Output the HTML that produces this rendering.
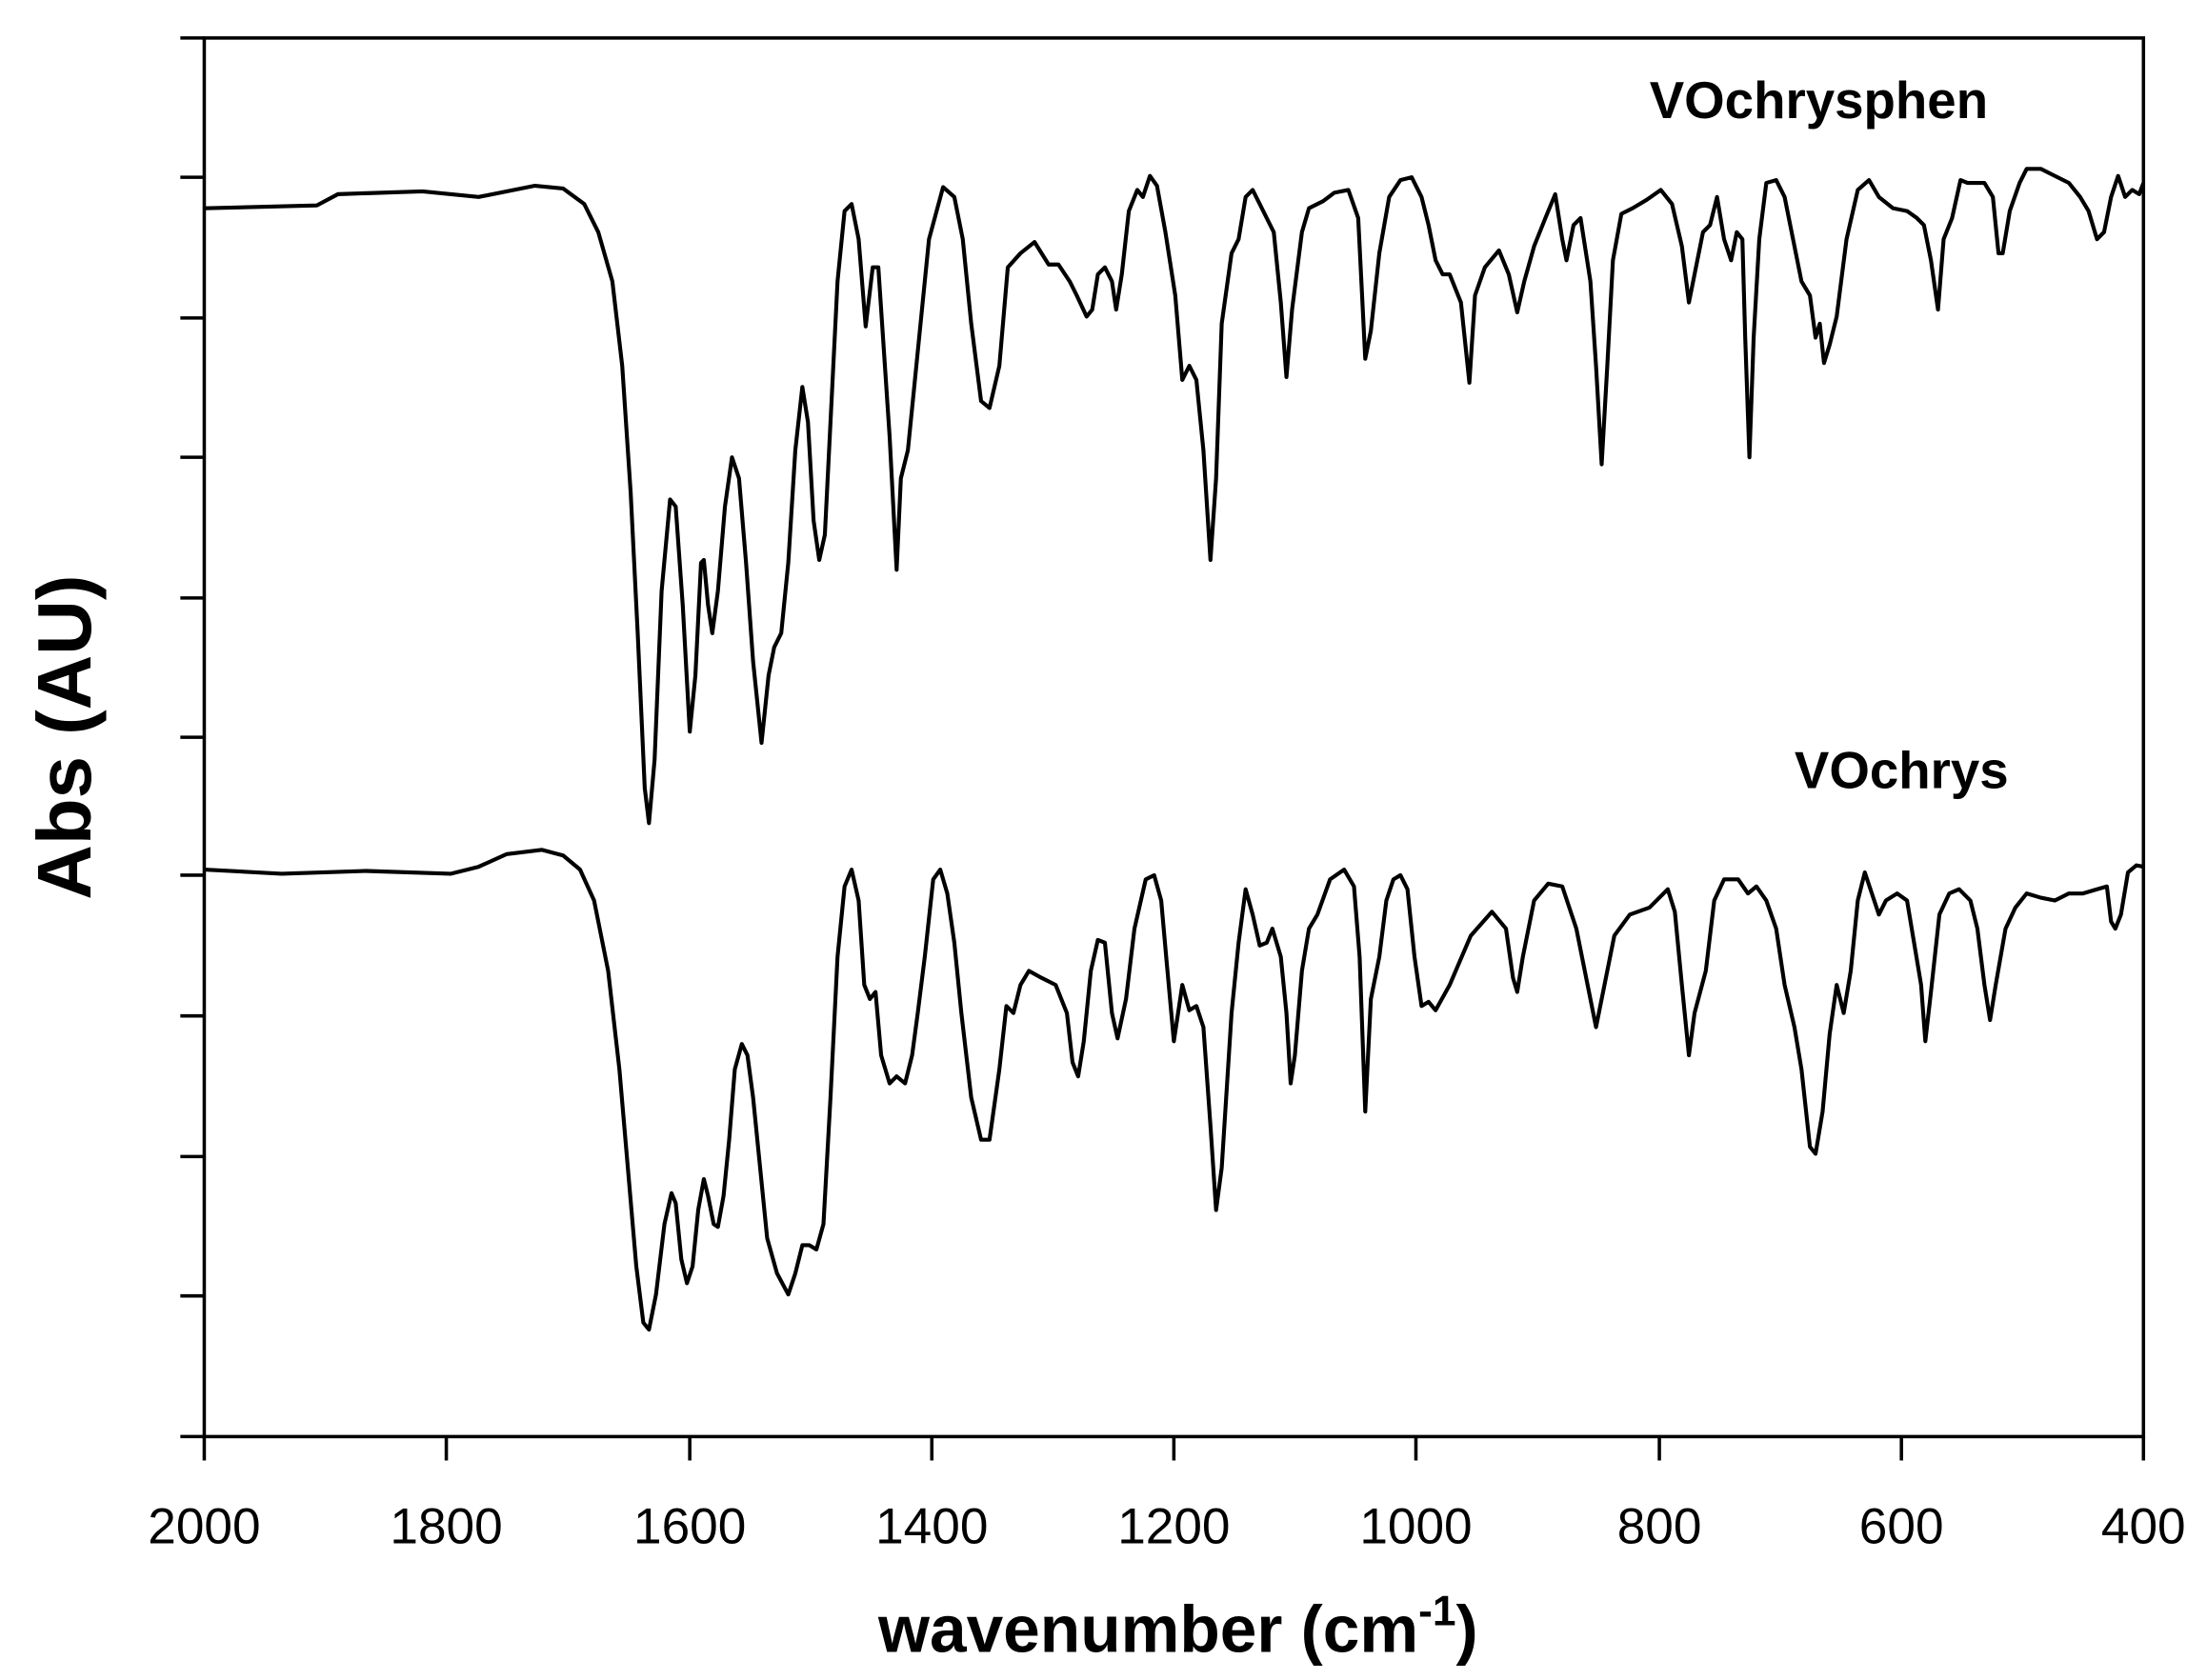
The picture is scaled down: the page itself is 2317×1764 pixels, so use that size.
<!DOCTYPE html>
<html><head><meta charset="utf-8"><style>html,body{margin:0;padding:0;background:#fff}svg{display:block}</style></head>
<body>
<svg width="2317" height="1764" viewBox="0 0 1568 1194" xmlns="http://www.w3.org/2000/svg" font-family="Liberation Sans, Arial, sans-serif">
<rect width="1568" height="1194" fill="#fff"/>
<g stroke="#000" stroke-width="2.4" fill="none">
<rect x="145" y="27" width="1378" height="994"/>
<path d="M128 27H145M128 126H145M128 226H145M128 325H145M128 425H145M128 524H145M128 622H145M128 722H145M128 822H145M128 921H145M128 1021H145"/>
<path d="M145 1021V1038M317 1021V1038M490 1021V1038M662 1021V1038M834 1021V1038M1006 1021V1038M1179 1021V1038M1351 1021V1038M1523 1021V1038"/>
</g>
<g font-size="36" text-anchor="middle" fill="#000">
<text x="145" y="1097">2000</text><text x="317" y="1097">1800</text><text x="490" y="1097">1600</text><text x="662" y="1097">1400</text><text x="834" y="1097">1200</text><text x="1006" y="1097">1000</text><text x="1179" y="1097">800</text><text x="1351" y="1097">600</text><text x="1523" y="1097">400</text>
</g>
<text x="837" y="1174" font-size="47" font-weight="bold" text-anchor="middle">wavenumber (cm<tspan font-size="30" dy="-19">-1</tspan><tspan dy="19">)</tspan></text>
<text transform="translate(64,524) rotate(-90)" font-size="54" font-weight="bold" text-anchor="middle">Abs (AU)</text>
<text x="1172" y="84" font-size="37" font-weight="bold">VOchrysphen</text>
<text x="1275" y="560" font-size="37" font-weight="bold">VOchrys</text>
<g stroke="#000" stroke-width="2.8" fill="none" stroke-linejoin="round">
<polyline points="145,148 225,146 240,138 300,136 340,140 380,132 400,134 415,145 425,165 435,200 442,260 448,350 453,450 458,560 461,585 465,540 470,420 476,355 480,360 485,430 490,520 494,480 498,400 500,398 503,430 506,450 510,420 515,360 520,325 525,340 530,400 535,470 541,528 546,480 550,460 555,450 560,400 565,320 570,275 574,300 578,370 582,398 586,380 590,300 595,200 600,150 605,145 610,170 615,232 620,190 624,190 628,250 632,310 637,405 640,340 645,320 652,250 660,170 670,133 678,140 684,170 690,230 697,285 703,290 710,260 716,190 725,180 735,172 745,188 752,188 760,200 765,210 772,225 776,220 780,195 785,190 790,200 793,220 797,195 802,150 808,135 812,140 817,125 822,132 828,165 835,210 840,270 845,260 850,270 855,320 860,398 864,340 868,230 875,180 880,170 885,140 890,135 895,145 900,155 905,165 910,215 914,268 918,220 925,165 930,148 940,143 948,137 958,135 965,155 970,255 974,235 980,180 987,140 995,128 1003,126 1010,140 1015,160 1020,185 1025,195 1030,195 1038,215 1044,272 1048,210 1055,190 1065,178 1072,195 1078,222 1083,200 1090,175 1098,155 1105,138 1110,170 1113,185 1118,160 1123,155 1130,200 1134,260 1138,330 1142,260 1146,185 1152,152 1160,148 1170,142 1180,135 1188,145 1195,175 1200,215 1205,190 1210,165 1215,160 1220,140 1225,170 1230,185 1234,165 1238,170 1240,240 1243,325 1246,240 1250,170 1255,130 1262,128 1268,140 1275,175 1280,200 1286,210 1290,240 1293,230 1296,258 1300,245 1305,225 1312,170 1320,135 1328,128 1335,140 1345,148 1355,150 1362,155 1367,160 1372,185 1377,220 1381,170 1387,155 1393,128 1398,130 1410,130 1416,140 1420,180 1423,180 1428,150 1435,130 1440,120 1450,120 1460,125 1470,130 1478,140 1484,150 1490,170 1495,165 1500,140 1505,125 1510,140 1515,135 1520,138 1523,130"/>
<polyline points="145,618 200,621 260,619 320,621 340,616 360,607 385,604 400,608 412,618 422,640 432,690 440,760 446,830 452,900 457,940 461,945 466,920 472,870 477,848 480,855 484,895 488,912 492,900 496,860 500,838 503,850 507,870 510,872 514,850 518,810 522,760 527,742 531,750 535,780 540,830 545,880 552,905 560,920 565,905 570,885 575,885 580,888 585,870 590,780 595,680 600,630 605,618 610,640 614,700 618,710 622,705 626,750 632,770 637,765 643,770 648,750 652,720 657,680 663,625 668,618 673,635 678,670 683,720 690,780 697,810 703,810 710,760 715,715 720,720 725,700 731,690 740,695 750,700 758,720 762,755 766,765 770,740 775,690 780,668 785,670 790,720 794,738 800,710 806,660 814,625 820,622 825,640 829,685 834,740 840,700 845,718 850,715 855,730 860,800 864,860 868,830 875,720 880,670 885,632 890,650 895,672 900,670 904,660 910,680 914,720 917,770 920,750 925,690 930,660 936,650 945,625 955,618 962,630 966,680 970,790 974,710 980,680 985,640 990,625 995,622 1000,632 1005,680 1010,715 1015,712 1020,718 1030,700 1045,665 1060,648 1070,660 1075,695 1078,705 1082,680 1090,640 1100,628 1110,630 1120,660 1128,700 1134,730 1140,700 1147,665 1158,650 1172,645 1185,632 1190,648 1195,700 1200,750 1204,720 1208,705 1212,690 1218,640 1225,625 1235,625 1242,635 1248,630 1255,640 1262,660 1268,700 1275,730 1280,760 1286,815 1290,820 1295,790 1300,735 1305,700 1310,720 1315,690 1320,640 1325,620 1330,635 1335,650 1340,640 1348,635 1355,640 1360,670 1365,700 1368,740 1372,705 1378,650 1385,635 1392,632 1400,640 1405,660 1410,700 1414,725 1418,700 1425,660 1432,645 1440,635 1450,638 1460,640 1470,635 1480,635 1490,632 1497,630 1500,655 1503,660 1507,650 1512,620 1518,615 1523,616"/>
</g>
</svg>
</body></html>
